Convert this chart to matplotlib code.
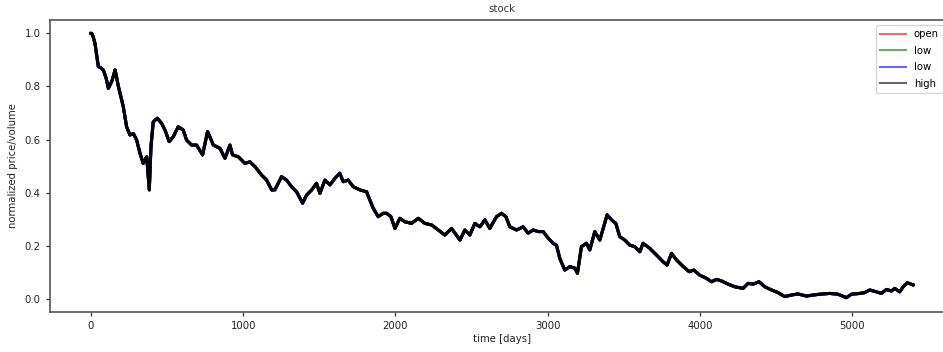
import matplotlib
matplotlib.use("Agg")
import matplotlib.pyplot as plt

days = [0, 5, 15, 26, 48, 65, 81, 100, 114, 136, 150, 158, 170, 180, 212, 234, 256, 278,
        300, 322, 343, 366, 383, 394, 409, 436, 464, 486, 514, 541, 573, 606, 628, 661,
        694, 733, 766, 804, 847, 880, 913, 930, 968, 1011, 1044, 1077, 1121, 1154, 1187,
        1208, 1252, 1285, 1318, 1351, 1390, 1417, 1450, 1482, 1504, 1537, 1570, 1603,
        1635, 1657, 1690, 1723, 1767, 1811, 1832, 1854, 1887, 1920, 1942, 1970, 1997,
        2029, 2062, 2106, 2150, 2194, 2238, 2281, 2325, 2369, 2424, 2456, 2489, 2522,
        2555, 2588, 2620, 2664, 2697, 2726, 2752, 2796, 2839, 2872, 2905, 2938, 2971,
        3004, 3036, 3058, 3080, 3113, 3146, 3179, 3196, 3222, 3255, 3277, 3310, 3343,
        3365, 3391, 3420, 3448, 3474, 3507, 3540, 3573, 3606, 3627, 3671, 3715, 3759,
        3785, 3814, 3847, 3891, 3930, 3960, 3999, 4043, 4077, 4110, 4142, 4186, 4230,
        4284, 4317, 4350, 4389, 4427, 4471, 4514, 4558, 4602, 4645, 4700, 4744, 4788,
        4854, 4908, 4963, 4996, 5051, 5083, 5116, 5160, 5193, 5226, 5259, 5281, 5313,
        5340, 5364, 5401]

price = [1.000, 1.000, 0.985, 0.963, 0.875, 0.870, 0.862, 0.830, 0.793, 0.818, 0.845, 0.862,
         0.830, 0.800, 0.724, 0.648, 0.617, 0.623, 0.598, 0.548, 0.510, 0.535, 0.410, 0.573,
         0.667, 0.680, 0.661, 0.636, 0.592, 0.611, 0.648, 0.636, 0.598, 0.579, 0.579, 0.542,
         0.630, 0.579, 0.567, 0.529, 0.579, 0.542, 0.535, 0.510, 0.516, 0.498, 0.466, 0.447,
         0.410, 0.410, 0.460, 0.447, 0.422, 0.403, 0.360, 0.391, 0.410, 0.435, 0.397, 0.447,
         0.429, 0.454, 0.473, 0.441, 0.447, 0.422, 0.410, 0.403, 0.372, 0.341, 0.309, 0.322,
         0.322, 0.310, 0.265, 0.303, 0.290, 0.284, 0.303, 0.284, 0.278, 0.259, 0.240, 0.265,
         0.221, 0.259, 0.240, 0.284, 0.271, 0.297, 0.265, 0.309, 0.322, 0.309, 0.271, 0.259,
         0.271, 0.247, 0.259, 0.253, 0.253, 0.228, 0.209, 0.202, 0.152, 0.108, 0.121, 0.115,
         0.096, 0.196, 0.209, 0.184, 0.253, 0.221, 0.265, 0.316, 0.297, 0.284, 0.234, 0.221,
         0.202, 0.196, 0.177, 0.209, 0.190, 0.165, 0.139, 0.127, 0.171, 0.146, 0.121, 0.102,
         0.108, 0.089, 0.077, 0.064, 0.073, 0.067, 0.055, 0.045, 0.039, 0.058, 0.055, 0.064,
         0.045, 0.033, 0.023, 0.008, 0.014, 0.018, 0.010, 0.014, 0.017, 0.020, 0.017, 0.004,
         0.017, 0.020, 0.023, 0.033, 0.026, 0.020, 0.035, 0.029, 0.039, 0.026, 0.048, 0.060,
         0.052]

series_labels = ["open", "low", "low", "high"]
series_colors = ["red", "green", "blue", "black"]
series_values = [price, price, price, price]

title = "stock"
xlabel = "time [days]"
ylabel = "normalized price/volume"

W, H, DPI = 943, 352, 100
fig = plt.figure(figsize=(W / DPI, H / DPI), dpi=DPI)
ax_w = 954 - 49.9
ax = fig.add_axes([49.9 / W, 1 - 312 / H, ax_w / W, (312 - 20.1) / H])

for vals, lab, col in zip(series_values, series_labels, series_colors):
    ax.plot(days, vals, color=col, label=lab, linewidth=2.2)

ax.set_xlim(-270, 5670)
ax.set_ylim(-0.05, 1.05)
ax.set_xticks([0, 1000, 2000, 3000, 4000, 5000])
ax.set_yticks([0.0, 0.2, 0.4, 0.6, 0.8, 1.0])

fs = 7.3
ax.tick_params(labelsize=fs, length=3, width=0.9, colors="#333333", labelcolor="#222222")
for sp in ax.spines.values():
    sp.set_linewidth(1.2)
    sp.set_color("#555555")

ax.set_title(title, fontsize=fs, color="#333333", pad=6)
ax.set_xlabel(xlabel, fontsize=fs, color="#222222", labelpad=2)
ax.set_ylabel(ylabel, fontsize=fs, color="#222222", labelpad=5)

leg = ax.legend(loc="upper right", bbox_to_anchor=(1 - 6 / ax_w, 1), fontsize=fs,
                handlelength=2.5, borderaxespad=0.5, labelspacing=0.65, framealpha=0.8)
for lh in leg.get_lines():
    lh.set_alpha(0.6)
    lh.set_linewidth(1.5)

fig.savefig("out.png", dpi=DPI)
